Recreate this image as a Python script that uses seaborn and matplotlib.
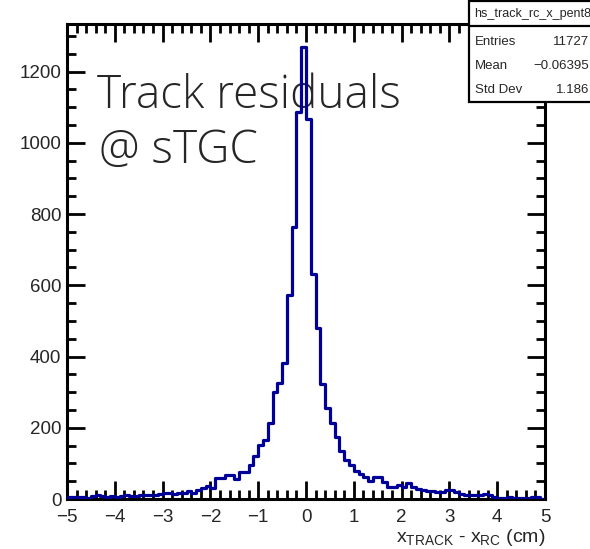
import numpy as np
import pandas as pd
import seaborn as sns
import matplotlib
matplotlib.use("Agg")
import matplotlib.pyplot as plt
from matplotlib.ticker import MultipleLocator
from matplotlib.patches import Rectangle
from matplotlib.lines import Line2D

# ---- data ----
x_min, x_max, n_bins = -5.0, 5.0, 100
counts_neg = [7, 6, 6, 7, 4, 8, 10, 9, 6, 8,
              7, 8, 10, 8, 9, 11, 11, 11, 12, 14,
              16, 16, 15, 17, 17, 23, 18, 25, 32, 36,
              30, 58, 58, 67, 67, 56, 75, 75, 95, 120,
              153, 165, 214, 301, 326, 382, 573, 763, 1087, 1270]
counts_pos = [1067, 633, 481, 324, 256, 214, 173, 134, 109, 95,
              79, 70, 62, 51, 63, 62, 48, 33, 33, 39,
              33, 44, 33, 27, 25, 22, 22, 20, 20, 25,
              24, 20, 13, 11, 11, 11, 11, 13, 11, 7,
              4, 3, 5, 3, 3, 2, 3, 5, 6, 1]
x_label = r"$x_{TRACK}$ - $x_{RC}$ (cm)"
y_ticks = [0, 200, 400, 600, 800, 1000, 1200]
x_ticks = [-5, -4, -3, -2, -1, 0, 1, 2, 3, 4, 5]
stats_title = "hs_track_rc_x_pent8"
stats_rows = [("Entries", "11727"), ("Mean", "\u22120.06395"), ("Std Dev", "1.186")]
annotation_lines = ["Track residuals", "@ sTGC"]

counts = counts_neg + counts_pos
edges = np.linspace(x_min, x_max, n_bins + 1)
centers = 0.5 * (edges[:-1] + edges[1:])
df = pd.DataFrame({"x": centers, "count": counts})

# ---- style ----
sns.set_style("ticks")
plt.rcParams["font.family"] = ["Liberation Sans", "DejaVu Sans"]
plt.rcParams["mathtext.fontset"] = "custom"
plt.rcParams["mathtext.rm"] = "Liberation Sans"
plt.rcParams["mathtext.it"] = "Liberation Sans"
plt.rcParams["mathtext.default"] = "regular"

W, H = 590, 549
fig = plt.figure(figsize=(W / 100, H / 100), dpi=100)
fig.patch.set_facecolor("white")
ax = fig.add_axes([67 / W, 1 - 499 / H, (545 - 67) / W, (499 - 24) / H])

sns.histplot(data=df, x="x", weights="count", bins=list(edges), element="step",
             fill=False, color="#000099", linewidth=2.3, ax=ax, zorder=3)

ax.set_xlim(x_min, x_max)
ax.set_ylim(0, 1333.5)
ax.set_xticks(x_ticks)
ax.set_yticks(y_ticks)
ax.xaxis.set_minor_locator(MultipleLocator(0.2))
ax.yaxis.set_minor_locator(MultipleLocator(50))
ax.tick_params(which="both", direction="in", top=True, right=True, width=2, color="black")
ax.tick_params(which="major", length=13)
ax.tick_params(which="minor", length=6.5)
ax.tick_params(axis="y", which="major", labelsize=13.5, pad=4)
ax.tick_params(axis="x", which="major", labelsize=13.5, pad=7)
for s in ax.spines.values():
    s.set_linewidth(2.2)
    s.set_color("black")
ax.set_ylabel("")
ax.set_xlabel(x_label, fontsize=14, loc="right", labelpad=1)

# ---- annotation text (below the histogram line, as in the reference) ----
ann_font = ["Open Sans", "DejaVu Sans"]
ax.text(97 / W, 1 - 108 / H, annotation_lines[0], fontsize=33, family=ann_font,
        fontweight="light", va="baseline", ha="left", transform=fig.transFigure, zorder=1)
ax.text(99 / W, 1 - 163 / H, annotation_lines[1], fontsize=33, family=ann_font,
        fontweight="light", va="baseline", ha="left", transform=fig.transFigure, zorder=1)

# ---- stats box ----
bx0, by0, bx1, by1 = 469, 1, 600, 102
fig.add_artist(Rectangle((bx0 / W, 1 - by1 / H), (bx1 - bx0) / W, (by1 - by0) / H,
                         transform=fig.transFigure, facecolor="white", edgecolor="black",
                         linewidth=1.6, zorder=10))
fig.add_artist(Line2D([bx0 / W, bx1 / W], [1 - 26 / H, 1 - 26 / H], transform=fig.transFigure,
                      color="black", linewidth=1.6, zorder=11))
fig.text(474 / W, 1 - 14 / H, stats_title, fontsize=9.0, va="center", ha="left", zorder=12)
for (name, val), yy in zip(stats_rows, [42, 66, 90]):
    fig.text(475 / W, 1 - yy / H, name, fontsize=9.5, va="center", ha="left", zorder=12)
    fig.text(589 / W, 1 - yy / H, val, fontsize=9.5, va="center", ha="right", zorder=12)

fig.savefig("out.png", dpi=100, facecolor="white")
